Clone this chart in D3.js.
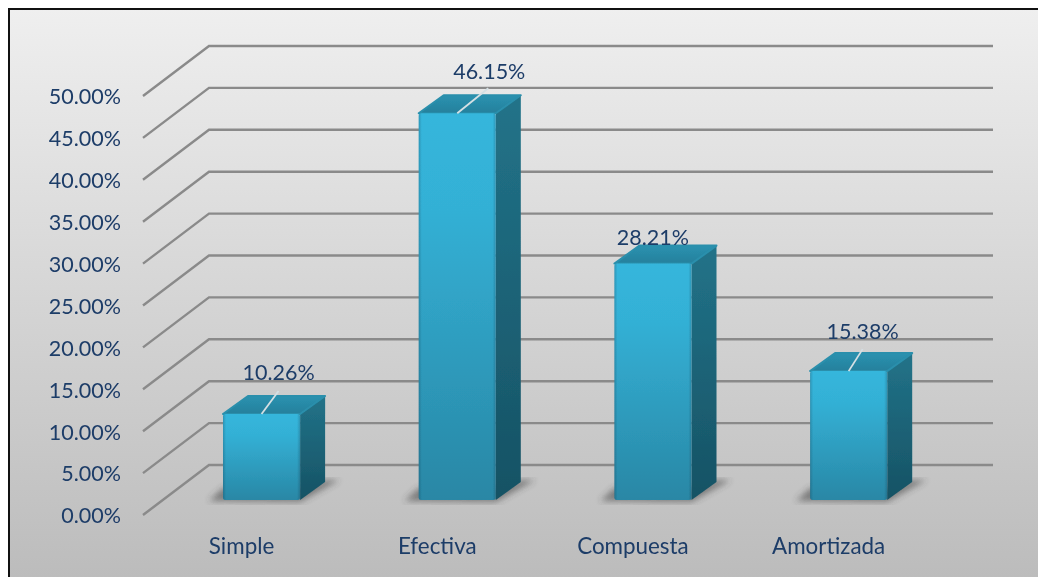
<!DOCTYPE html>
<meta charset="utf-8">
<style>
  html, body { margin: 0; padding: 0; background: #fff; overflow: hidden; }
  text { font-family: Lato, sans-serif; fill: #1d3c68; }
</style>
<body>
<div id="chart"></div>
<script src="https://d3js.org/d3.v7.min.js"></script>
<script>
  const categories = ['Simple', 'Efectiva', 'Compuesta', 'Amortizada'];
  const values = [10.26, 46.15, 28.21, 15.38];
  const valueLabels = ['10.26%', '46.15%', '28.21%', '15.38%'];
  const yTicks = [0, 5, 10, 15, 20, 25, 30, 35, 40, 45, 50];

  const width = 1038, height = 577;

  const svg = d3.select('#chart').append('svg')
      .attr('width', width)
      .attr('height', height)
      .style('display', 'block');

  const defs = svg.append('defs');

  function gradient(id, stops, horizontal) {
    const g = defs.append('linearGradient').attr('id', id)
        .attr('x1', 0).attr('y1', 0)
        .attr('x2', horizontal ? 1 : 0).attr('y2', horizontal ? 0 : 1);
    stops.forEach(s => g.append('stop').attr('offset', s[0]).attr('stop-color', s[1])
        .attr('stop-opacity', s[2] === undefined ? 1 : s[2]));
  }
  gradient('bg', [[0, '#efefef'], [1, '#bcbcbc']]);
  gradient('front', [[0, '#35b6dc'], [0.25, '#33b0d5'], [1, '#2987a5']]);
  gradient('edge', [[0, '#123', 0.22], [0.04, '#123', 0], [0.96, '#123', 0], [1, '#123', 0.22]], true);
  gradient('side', [[0, '#227389'], [1, '#165264']]);
  gradient('top', [[0, '#2a92b0'], [1, '#26809c']]);
  defs.append('filter').attr('id', 'blur').append('feGaussianBlur').attr('stdDeviation', 3);
  defs.append('filter').attr('id', 'soft').append('feGaussianBlur').attr('stdDeviation', 0.4);

  // chart area, black on top and left, image cut off on the other sides
  svg.append('rect').attr('x', 9).attr('y', 9).attr('width', width - 9).attr('height', height - 9)
      .attr('fill', 'url(#bg)');
  svg.append('path').attr('d', `M9,${height}V9H${width}`)
      .attr('fill', 'none').attr('stroke', '#111').attr('stroke-width', 2);

  // the reference is a slightly blurry screenshot
  const chart = svg.append('g').attr('filter', 'url(#soft)');

  // depth of the 3d box
  const wallDx = 66, wallDy = -50;
  const barDx = 25, barDy = -18;
  const floorDy = -15;

  const y = d3.scaleLinear().domain([0, 50]).range([515, 96]);
  const x = d3.scaleBand().domain(categories).range([163.7, 946.5])
      .paddingInner(0.606).paddingOuter(0.303);

  const axisX = 143, rightX = 993;

  // gridlines: side wall + back wall
  const grid = chart.append('g').attr('fill', 'none').attr('stroke', '#8a8a8a').attr('stroke-width', 2.4);
  grid.selectAll('path').data(yTicks).enter().append('path')
      .attr('d', d => `M${axisX},${y(d)}l${wallDx},${wallDy}H${rightX}`);

  // y axis labels
  const yAxis = d3.axisLeft(y).tickValues(yTicks).tickSize(0).tickPadding(0)
      .tickFormat(d => d3.format('.2f')(d) + '%');
  const yG = chart.append('g').attr('transform', 'translate(121,1)').call(yAxis);
  yG.select('.domain').remove();
  yG.selectAll('text').attr('font-size', 21.5).attr('font-family', 'Lato, sans-serif');

  // bars
  const bars = chart.append('g').selectAll('g').data(categories).enter().append('g');
  const barBase = d => y(0) + floorDy;
  const barTop = (d, i) => barBase(d) - (y(0) - y(values[i]));
  const bw = x.bandwidth();

  // floor shadow
  bars.append('path')
      .attr('d', d => {
        const l = x(d), r = l + bw, b = barBase(d);
        return `M${l - 14},${b + 1}L${l},${b - 12}H${r}L${r + barDx},${b + barDy - 2}H${r + barDx + 14}L${r},${b + 2}Z`;
      })
      .attr('fill', '#555').attr('opacity', 0.65).attr('filter', 'url(#blur)');

  bars.append('path').attr('class', 'side')
      .attr('d', (d, i) => {
        const r = x(d) + bw, t = barTop(d, i), b = barBase(d);
        return `M${r},${t}l${barDx},${barDy}V${b + barDy}L${r},${b}Z`;
      })
      .attr('fill', 'url(#side)');

  bars.append('path').attr('class', 'top')
      .attr('d', (d, i) => {
        const l = x(d), t = barTop(d, i);
        return `M${l},${t}l${barDx},${barDy}h${bw}l${-barDx},${-barDy}Z`;
      })
      .attr('fill', 'url(#top)').attr('stroke', '#2a8fac').attr('stroke-width', 2).attr('stroke-linejoin', 'round');

  bars.append('rect')
      .attr('x', d => x(d))
      .attr('y', (d, i) => barTop(d, i))
      .attr('width', bw)
      .attr('height', (d, i) => barBase(d) - barTop(d, i))
      .attr('fill', 'url(#front)')
      .attr('rx', 2.5);

  bars.append('rect')
      .attr('x', d => x(d))
      .attr('y', (d, i) => barTop(d, i))
      .attr('width', bw)
      .attr('height', (d, i) => barBase(d) - barTop(d, i))
      .attr('fill', 'url(#edge)')
      .attr('rx', 2.5);

  // leader lines, from the middle of the bar's front top edge to its label
  const leaderEnd = { Simple: [17, -23], Efectiva: [31, -25], Amortizada: [14, -22] };
  bars.filter(d => leaderEnd[d]).append('line')
      .attr('x1', d => x(d) + bw / 2)
      .attr('y1', d => barTop(d, categories.indexOf(d)))
      .attr('x2', d => x(d) + bw / 2 + leaderEnd[d][0])
      .attr('y2', d => barTop(d, categories.indexOf(d)) + leaderEnd[d][1])
      .attr('stroke', '#d5e0e4').attr('stroke-width', 1.8);

  // value labels, offset from the same point
  const labelShift = { Simple: [17, -34], Efectiva: [32, -34], Compuesta: [0, -18.5], Amortizada: [14, -32] };
  bars.append('text')
      .attr('text-anchor', 'middle')
      .attr('font-size', 21.5)
      .attr('x', d => x(d) + bw / 2 + labelShift[d][0])
      .attr('y', (d, i) => barTop(d, i) + labelShift[d][1])
      .text((d, i) => valueLabels[i]);

  // category labels sit on the front edge of the floor
  chart.append('g').selectAll('text').data(categories).enter().append('text')
      .attr('text-anchor', 'middle')
      .attr('font-size', 22.4)
      .attr('x', d => x(d) + bw / 2 - 20)
      .attr('y', 554)
      .text(d => d);
</script>
